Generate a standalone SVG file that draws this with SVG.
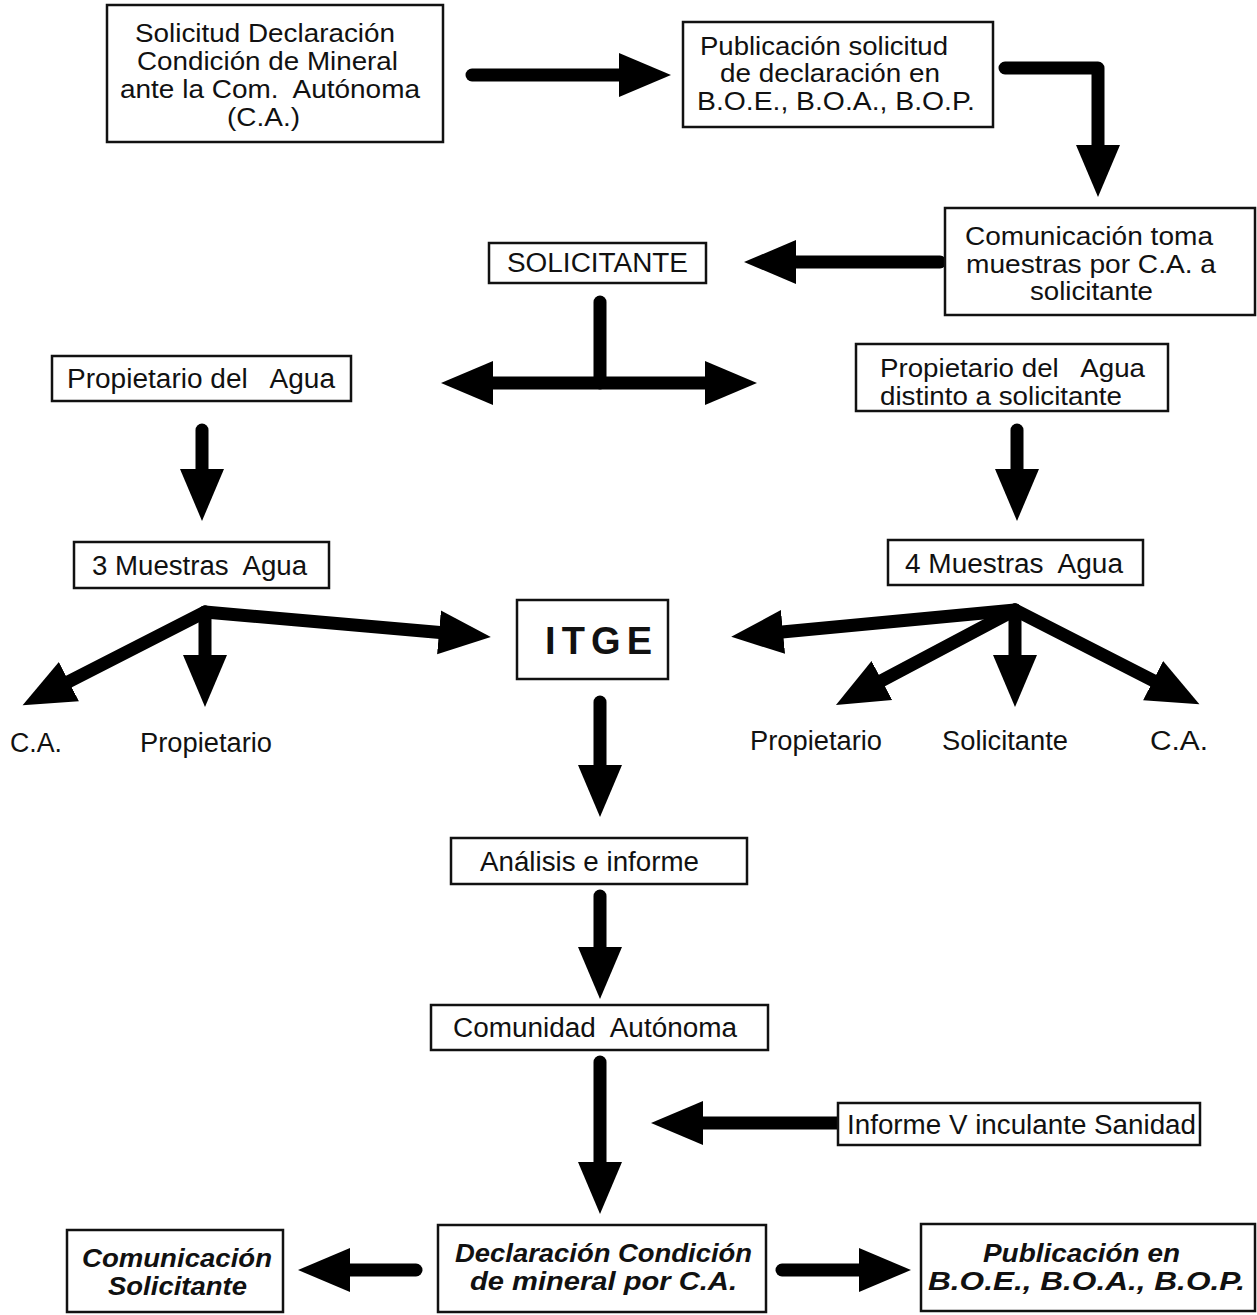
<svg xmlns="http://www.w3.org/2000/svg" width="1257" height="1315" viewBox="0 0 1257 1315">
<style>
.box{fill:#fff;stroke:#111;stroke-width:2.5}
text{white-space:pre}
.t{font-family:"Liberation Sans",Arial,sans-serif;font-size:27px;fill:#111}
.m{font-family:"Liberation Sans",Arial,sans-serif;font-size:25px;fill:#111}
.bi{font-family:"Liberation Sans",Arial,sans-serif;font-size:25px;font-weight:bold;font-style:italic;fill:#111}
.big{font-family:"Liberation Sans",Arial,sans-serif;font-size:38px;font-weight:bold;fill:#111}
.c{fill:none;stroke:#000;stroke-width:13;stroke-linecap:round;stroke-linejoin:round}
</style>
<defs>
<marker id="h" markerUnits="userSpaceOnUse" viewBox="0 -24 54 48" refX="1" refY="0" markerWidth="54" markerHeight="48" orient="auto-start-reverse">
<path d="M0,-22 L52,0 L0,22 Z" fill="#000"/>
</marker>
</defs>
<g id="connectors">
<line class="c" x1="472" y1="75" x2="620" y2="75" marker-end="url(#h)"/>
<path class="c" d="M1005,68 H1098 V146" marker-end="url(#h)"/>
<line class="c" x1="940" y1="262" x2="795" y2="262" marker-end="url(#h)"/>
<line class="c" x1="600" y1="302" x2="600" y2="383"/>
<line class="c" x1="492" y1="383" x2="706" y2="383" marker-start="url(#h)" marker-end="url(#h)"/>
<line class="c" x1="202" y1="430" x2="202" y2="470" marker-end="url(#h)"/>
<line class="c" x1="1017" y1="430" x2="1017" y2="470" marker-end="url(#h)"/>
<line class="c" x1="205" y1="612" x2="68" y2="682" marker-end="url(#h)"/>
<line class="c" x1="205" y1="612" x2="205" y2="656" marker-end="url(#h)"/>
<line class="c" x1="205" y1="612" x2="440" y2="632.5" marker-end="url(#h)"/>
<line class="c" x1="1015" y1="610" x2="782" y2="632" marker-end="url(#h)"/>
<line class="c" x1="1015" y1="610" x2="881" y2="681" marker-end="url(#h)"/>
<line class="c" x1="1015" y1="610" x2="1015" y2="656" marker-end="url(#h)"/>
<line class="c" x1="1015" y1="610" x2="1154" y2="681" marker-end="url(#h)"/>
<line class="c" x1="600" y1="702" x2="600" y2="766" marker-end="url(#h)"/>
<line class="c" x1="600" y1="896" x2="600" y2="948" marker-end="url(#h)"/>
<line class="c" x1="600" y1="1062" x2="600" y2="1163" marker-end="url(#h)"/>
<line class="c" x1="843" y1="1123" x2="702" y2="1123" marker-end="url(#h)"/>
<line class="c" x1="416" y1="1270" x2="349" y2="1270" marker-end="url(#h)"/>
<line class="c" x1="782" y1="1270" x2="860" y2="1270" marker-end="url(#h)"/>
</g>
<g id="n1"><rect class="box" x="107" y="5" width="336" height="137"/>
<text class="m" x="135" y="42" textLength="260" lengthAdjust="spacingAndGlyphs">Solicitud Declaración</text>
<text class="m" x="137" y="70" textLength="261" lengthAdjust="spacingAndGlyphs">Condición de Mineral</text>
<text class="m" x="120" y="98" textLength="300" lengthAdjust="spacingAndGlyphs">ante la Com.  Autónoma</text>
<text class="m" x="227" y="126" textLength="73" lengthAdjust="spacingAndGlyphs">(C.A.)</text></g>
<g id="n2"><rect class="box" x="683" y="22" width="310" height="105"/>
<text class="m" x="700" y="55" textLength="248" lengthAdjust="spacingAndGlyphs">Publicación solicitud</text>
<text class="m" x="720" y="82" textLength="220" lengthAdjust="spacingAndGlyphs">de declaración en</text>
<text class="m" x="697" y="110" textLength="278" lengthAdjust="spacingAndGlyphs">B.O.E., B.O.A., B.O.P.</text></g>
<g id="n3"><rect class="box" x="945" y="208" width="310" height="107"/>
<text class="m" x="965" y="245" textLength="248" lengthAdjust="spacingAndGlyphs">Comunicación toma</text>
<text class="m" x="966" y="273" textLength="250" lengthAdjust="spacingAndGlyphs">muestras por C.A. a</text>
<text class="m" x="1030" y="300" textLength="123" lengthAdjust="spacingAndGlyphs">solicitante</text></g>
<g id="n4"><rect class="box" x="489" y="243" width="217" height="40"/>
<text class="t" x="507" y="272" textLength="181" lengthAdjust="spacingAndGlyphs">SOLICITANTE</text></g>
<g id="n5"><rect class="box" x="52" y="356" width="299" height="45"/>
<text class="t" x="67" y="388" textLength="268" lengthAdjust="spacingAndGlyphs">Propietario del   Agua</text></g>
<g id="n6"><rect class="box" x="856" y="344" width="312" height="67"/>
<text class="m" x="880" y="377" textLength="265" lengthAdjust="spacingAndGlyphs">Propietario del   Agua</text>
<text class="m" x="880" y="405" textLength="242" lengthAdjust="spacingAndGlyphs">distinto a solicitante</text></g>
<g id="n7"><rect class="box" x="74" y="542" width="255" height="46"/>
<text class="t" x="92" y="575" textLength="215" lengthAdjust="spacingAndGlyphs">3 Muestras  Agua</text></g>
<g id="n8"><rect class="box" x="888" y="540" width="255" height="45"/>
<text class="t" x="905" y="573" textLength="218" lengthAdjust="spacingAndGlyphs">4 Muestras  Agua</text></g>
<g id="n9"><rect class="box" x="517" y="600" width="151" height="79"/>
<text class="big" x="545" y="654" textLength="107" lengthAdjust="spacing">ITGE</text></g>
<g id="n10"><text class="t" x="10" y="752" textLength="52" lengthAdjust="spacingAndGlyphs">C.A.</text></g>
<g id="n11"><text class="t" x="140" y="752" textLength="132" lengthAdjust="spacingAndGlyphs">Propietario</text></g>
<g id="n12"><text class="t" x="750" y="750" textLength="132" lengthAdjust="spacingAndGlyphs">Propietario</text></g>
<g id="n13"><text class="t" x="942" y="750" textLength="126" lengthAdjust="spacingAndGlyphs">Solicitante</text></g>
<g id="n14"><text class="t" x="1150" y="750" textLength="58" lengthAdjust="spacingAndGlyphs">C.A.</text></g>
<g id="n15"><rect class="box" x="451" y="838" width="296" height="46"/>
<text class="t" x="480" y="871" textLength="219" lengthAdjust="spacingAndGlyphs">Análisis e informe</text></g>
<g id="n16"><rect class="box" x="431" y="1005" width="337" height="45"/>
<text class="t" x="453" y="1037" textLength="284" lengthAdjust="spacingAndGlyphs">Comunidad  Autónoma</text></g>
<g id="n17"><rect class="box" x="838" y="1103" width="362" height="42"/>
<text class="t" x="847" y="1134" textLength="349" lengthAdjust="spacingAndGlyphs">Informe V inculante Sanidad</text></g>
<g id="n18"><rect class="box" x="67" y="1230" width="216" height="82"/>
<text class="bi" x="82" y="1267" textLength="190" lengthAdjust="spacingAndGlyphs">Comunicación</text>
<text class="bi" x="108" y="1295" textLength="139" lengthAdjust="spacingAndGlyphs">Solicitante</text></g>
<g id="n19"><rect class="box" x="438" y="1225" width="328" height="87"/>
<text class="bi" x="455" y="1262" textLength="297" lengthAdjust="spacingAndGlyphs">Declaración Condición</text>
<text class="bi" x="470" y="1290" textLength="267" lengthAdjust="spacingAndGlyphs">de mineral por C.A.</text></g>
<g id="n20"><rect class="box" x="921" y="1224" width="334" height="87"/>
<text class="bi" x="983" y="1262" textLength="197" lengthAdjust="spacingAndGlyphs">Publicación en</text>
<text class="bi" x="928" y="1290" textLength="317" lengthAdjust="spacingAndGlyphs">B.O.E., B.O.A., B.O.P.</text></g>
</svg>
